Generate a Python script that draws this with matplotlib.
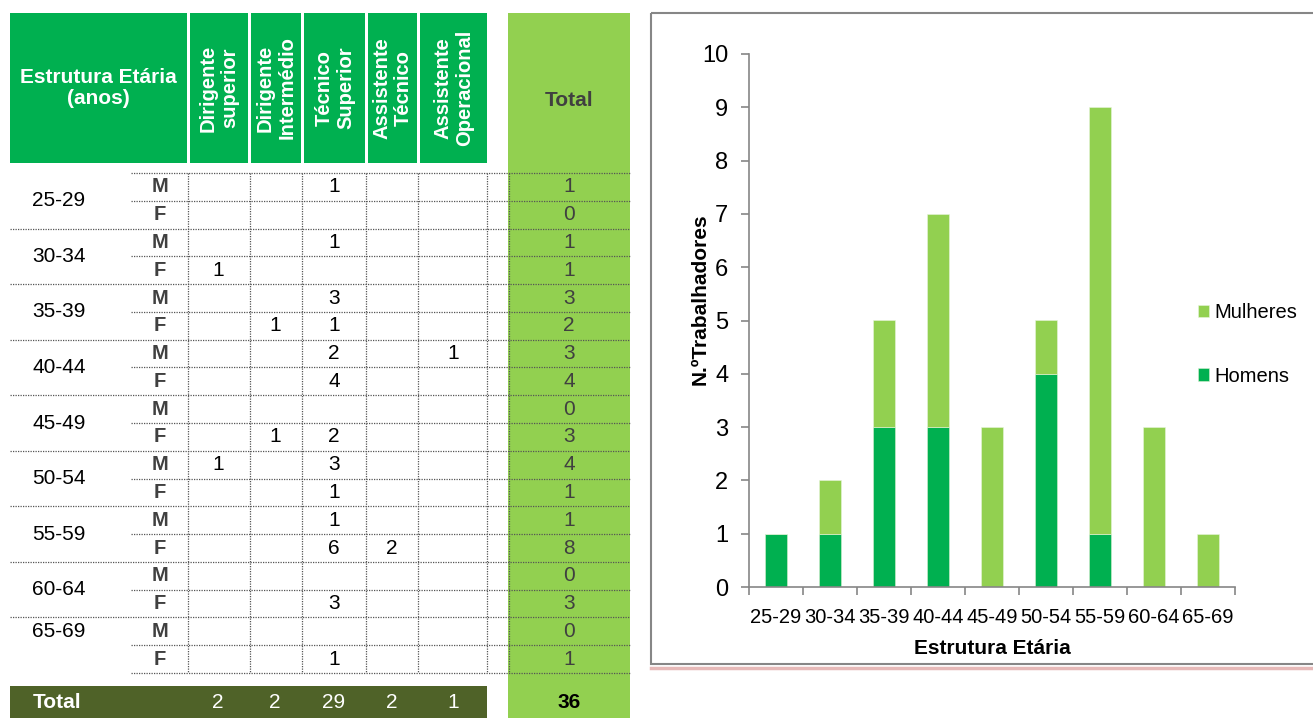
import matplotlib
matplotlib.use("Agg")
import matplotlib.pyplot as plt
from matplotlib.patches import Rectangle
import numpy as np

plt.rcParams['font.family'] = ['Liberation Sans', 'DejaVu Sans']

# ---- dados ----
faixas = ["25-29", "30-34", "35-39", "40-44", "45-49", "50-54", "55-59", "60-64", "65-69"]
sexo = ["M", "F"]
cargos = ["Dirigente\nsuperior", "Dirigente\nIntermédio", "Técnico\nSuperior",
          "Assistente\nTécnico", "Assistente\nOperacional"]

# linhas: 25-29 M, 25-29 F, 30-34 M, 30-34 F, ...
dirigente_superior = [None, None, None, 1, None, None, None, None, None,
                      None, 1, None, None, None, None, None, None, None]
dirigente_intermedio = [None, None, None, None, None, 1, None, None, None,
                        1, None, None, None, None, None, None, None, None]
tecnico_superior = [1, None, 1, None, 3, 1, 2, 4, None,
                    2, 3, 1, 1, 6, None, 3, None, 1]
assistente_tecnico = [None, None, None, None, None, None, None, None, None,
                      None, None, None, None, 2, None, None, None, None]
assistente_operacional = [None, None, None, None, None, None, 1, None, None,
                          None, None, None, None, None, None, None, None, None]

homens = [1, 1, 3, 3, 0, 4, 1, 0, 0]
mulheres = [0, 1, 2, 4, 3, 1, 8, 3, 1]

colunas = [dirigente_superior, dirigente_intermedio, tecnico_superior,
           assistente_tecnico, assistente_operacional]
total_linha = [sum(c[i] or 0 for c in colunas) for i in range(18)]
total_coluna = [sum(v or 0 for v in c) for c in colunas]

verde = "#00B050"
verde_claro = "#92D050"
oliva = "#4F6228"
cinza_txt = "#404040"

fig = plt.figure(figsize=(13.13, 7.18), dpi=100)
ax = fig.add_axes([0, 0, 1, 1])
ax.set_xlim(0, 1313)
ax.set_ylim(718, 0)
ax.axis("off")

# ---- tabela ----
hx = [(190, 248), (251, 301), (304, 365), (368, 417), (420, 487)]
cx = [218, 275, 334, 392, 453]
ax.add_patch(Rectangle((10, 13), 177, 150, color=verde, lw=0))
for (a, b) in hx:
    ax.add_patch(Rectangle((a, 13), b - a, 150, color=verde, lw=0))
ax.add_patch(Rectangle((508, 13), 122, 705, color=verde_claro, lw=0))
ax.text(98, 88, "Estrutura Etária\n(anos)", color="white", fontsize=15,
        fontweight="bold", ha="center", va="center", linespacing=1.15)
for x, nome in zip(cx, cargos):
    ax.text(x + 1, 88, nome, color="white", fontsize=14.5, fontweight="bold",
            rotation=90, ha="center", va="center", multialignment="center",
            linespacing=1.15)
ax.text(569, 100, "Total", color=cinza_txt, fontsize=15, fontweight="bold",
        ha="center", va="center")

top = 173
h = 27.78
dot = dict(color="#555555", lw=0.9, linestyle=(0, (1, 1)))
for k in range(19):
    y = top + k * h
    x0 = 10 if (k % 2 == 0 and 0 < k < 18) else 131
    ax.plot([x0, 630], [y, y], **dot)
for x in [188, 250, 302, 366, 418, 487, 509]:
    ax.plot([x, x], [top, top + 18 * h], **dot)

for g, f in enumerate(faixas):
    if g == 8:
        yg = top + (2 * g + 0.5) * h
    else:
        yg = top + (2 * g + 1) * h
    ax.text(59, yg, f, fontsize=15, ha="center", va="center", color="black")

for i in range(18):
    y = top + (i + 0.5) * h
    ax.text(160, y, sexo[i % 2], fontsize=14.5, fontweight="bold",
            color=cinza_txt, ha="center", va="center")
    for x, c in zip(cx, colunas):
        if c[i] is not None:
            ax.text(x, y, str(c[i]), fontsize=15, ha="center", va="center")
    ax.text(569, y, str(total_linha[i]), fontsize=15, ha="center",
            va="center", color=cinza_txt)

ax.add_patch(Rectangle((10, 686), 477, 32, color=oliva, lw=0))
ax.text(33, 703, "Total", color="white", fontsize=15, fontweight="bold",
        ha="left", va="center")
for x, t in zip(cx, total_coluna):
    ax.text(x, 703, str(t), color="white", fontsize=15, ha="center", va="center")
ax.text(569, 703, str(sum(total_coluna)), color="black", fontsize=15,
        fontweight="bold", ha="center", va="center")

# moldura do grafico
ax.add_patch(Rectangle((651, 13), 700, 651, fill=False, ec="#868686", lw=1.5))
ax.plot([651, 1313], [667.5, 667.5], color="#E6B9B8", lw=2.5)

# ---- grafico ----
ac = fig.add_axes([749 / 1313, 1 - 587 / 718, 486 / 1313, 533 / 718])
pos = np.arange(len(faixas))
ac.bar(pos, homens, width=0.39, color=verde, edgecolor="#d8f0d0", lw=0.4,
       label="Homens")
ac.bar(pos, mulheres, width=0.39, bottom=homens, color=verde_claro,
       edgecolor="#e8f5dc", lw=0.4, label="Mulheres")
ac.set_xlim(-0.5, len(faixas) - 0.5)
ac.set_ylim(0, 10)
ac.set_yticks(range(0, 11))
ac.set_xticks(pos)
ac.set_xticklabels(faixas)
ac.set_xticks(np.arange(-0.5, len(faixas)), minor=True)
ac.tick_params(axis="x", which="major", length=0, pad=15, labelsize=14.5)
ac.tick_params(axis="x", which="minor", length=6, color="#868686", width=1.2)
ac.tick_params(axis="y", length=6, color="#868686", width=1.2, pad=9,
               labelsize=17)
for s in ["top", "right"]:
    ac.spines[s].set_visible(False)
for s in ["left", "bottom"]:
    ac.spines[s].set_color("#868686")
    ac.spines[s].set_linewidth(1.2)
ac.set_xlabel("Estrutura Etária", fontsize=15, fontweight="bold", labelpad=9)
ac.set_ylabel("N.ºTrabalhadores", fontsize=15, fontweight="bold")
ac.yaxis.set_label_coords(-0.081, 0.54)

hnd, lab = ac.get_legend_handles_labels()
ac.legend(hnd[::-1], lab[::-1], loc="center left", bbox_to_anchor=(0.924, 0.455),
          frameon=False, fontsize=14.5, handlelength=0.55, handleheight=0.55,
          handletextpad=0.25, labelspacing=2.2, borderpad=0, borderaxespad=0)

fig.savefig("out.png", dpi=100)
